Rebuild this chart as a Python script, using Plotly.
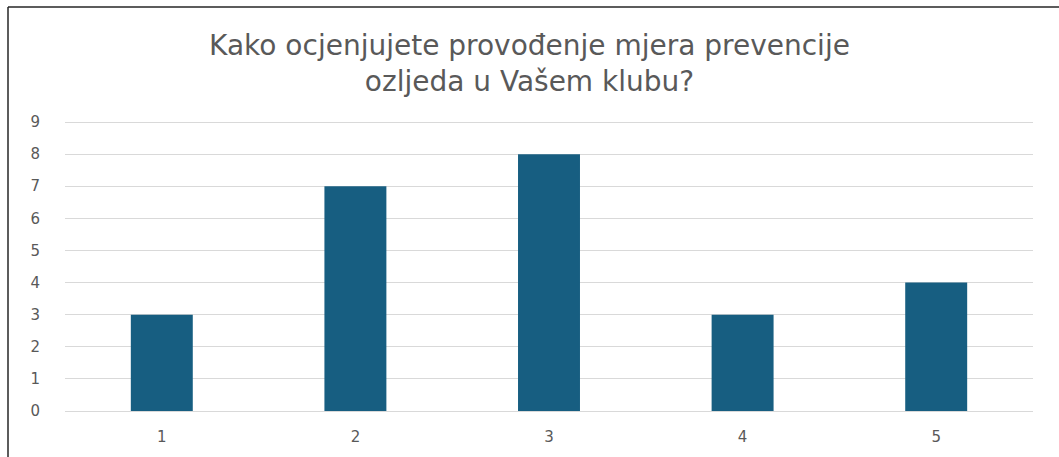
import plotly.graph_objects as go

categories = ["1", "2", "3", "4", "5"]
counts = [3, 7, 8, 3, 4]
y_ticks = [0, 1, 2, 3, 4, 5, 6, 7, 8, 9]

W, H = 1059, 457
ML, MR, MT, MB = 65, 26, 119, 46
Y_TOP = 9.094

fig = go.Figure(
    go.Bar(
        x=categories,
        y=counts,
        marker=dict(color="#175E81", line=dict(width=0)),
        hoverinfo="x+y",
    )
)

fig.update_layout(
    width=W,
    height=H,
    margin=dict(l=ML, r=MR, t=MT, b=MB),
    paper_bgcolor="white",
    plot_bgcolor="white",
    bargap=0.68,
    showlegend=False,
    font=dict(family="DejaVu Sans, sans-serif", color="#595959"),
    title=dict(
        text="Kako ocjenjujete provođenje mjera prevencije<br>ozljeda u Vašem klubu?",
        x=0.5,
        xanchor="center",
        y=1 - 55 / H,
        yanchor="middle",
        font=dict(family="DejaVu Sans, sans-serif", size=28, color="#595959"),
    ),
)

fig.update_xaxes(
    type="category",
    showgrid=False,
    showline=False,
    ticks="",
    tickfont=dict(size=15, color="#595959"),
    ticklabelstandoff=15,
)

fig.update_yaxes(
    range=[0, Y_TOP],
    tickvals=y_ticks,
    showgrid=True,
    gridcolor="#D9D9D9",
    gridwidth=1,
    zeroline=True,
    zerolinecolor="#D9D9D9",
    zerolinewidth=1,
    showline=False,
    ticks="",
    tickfont=dict(size=15, color="#595959"),
    ticklabelstandoff=24,
)

# Frame lines along the left and top edges of the chart area
pw = W - ML - MR
ph = H - MT - MB
def px_x(x):
    return (x - ML) / pw
def px_y(y):
    return (H - MB - y) / ph

fig.add_shape(type="line", xref="paper", yref="paper",
              x0=px_x(8), x1=px_x(8), y0=px_y(7), y1=px_y(H + 5),
              line=dict(color="#262626", width=1.5))
fig.add_shape(type="line", xref="paper", yref="paper",
              x0=px_x(8), x1=px_x(W + 5), y0=px_y(7), y1=px_y(7),
              line=dict(color="#262626", width=1.5))

fig.write_html("out.html")
